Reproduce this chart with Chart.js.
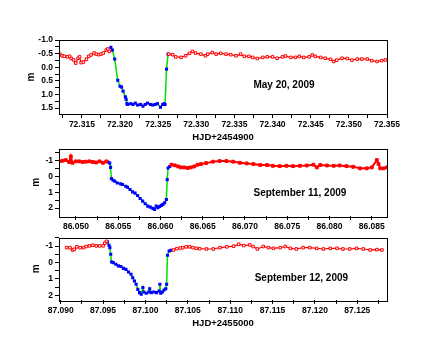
<!DOCTYPE html>
<html>
<head>
<meta charset="utf-8">
<script src="https://cdn.jsdelivr.net/npm/chart.js@4.4.1/dist/chart.umd.min.js"></script>
<style>
html, body { margin: 0; padding: 0; background: #fff; }
#wrap { position: relative; width: 426px; height: 348px; }
#wrap canvas { position: absolute; left: 0; top: 0; }
</style>
</head>
<body>
<div id="wrap">
  <canvas id="c1" width="426" height="348"></canvas>
  <canvas id="c2" width="426" height="348"></canvas>
  <canvas id="c3" width="426" height="348"></canvas>
</div>
<script>
// May 20, 2009  (HJD - 2454900)
var may20PreX = [72.3121,72.3124,72.3127,72.3131,72.3134,72.3136,72.3139,72.3142,72.3145,72.3147,72.3149,72.3152,72.3156,72.3159,72.3162,72.3166,72.3169,72.3172,72.3175,72.3178,72.3182,72.3184,72.3186];
var may20PreY = [-0.48,-0.42,-0.40,-0.38,-0.40,-0.32,-0.27,-0.15,-0.33,-0.38,-0.17,-0.19,-0.30,-0.40,-0.45,-0.52,-0.48,-0.46,-0.48,-0.52,-0.63,-0.67,-0.58];
var may20InX = [72.3188,72.3190,72.3193,72.3197,72.3200,72.3202,72.3204,72.3207,72.3208,72.3209,72.3210,72.3214,72.3217,72.3220,72.3223,72.3227,72.3230,72.3233,72.3236,72.3240,72.3243,72.3246,72.3249,72.3253,72.3256,72.3258,72.3259,72.3261,72.3263];
var may20InY = [-0.73,-0.63,-0.30,0.48,0.70,0.73,0.88,1.09,1.18,1.34,1.37,1.34,1.37,1.32,1.39,1.37,1.43,1.37,1.32,1.37,1.39,1.37,1.34,1.47,1.37,1.34,1.37,0.07,-0.48];
var may20PostX = [72.3264,72.3269,72.3273,72.3280,72.3286,72.3291,72.3295,72.3299,72.3306,72.3312,72.3315,72.3321,72.3326,72.3332,72.3339,72.3345,72.3352,72.3358,72.3363,72.3369,72.3374,72.3380,72.3387,72.3393,72.3400,72.3406,72.3413,72.3417,72.3424,72.3430,72.3435,72.3441,72.3448,72.3452,72.3456,72.3463,72.3469,72.3476,72.3480,72.3484,72.3491,72.3498,72.3504,72.3511,72.3517,72.3524,72.3530,72.3537,72.3543,72.3548];
var may20PostY = [-0.48,-0.46,-0.38,-0.36,-0.42,-0.51,-0.58,-0.52,-0.48,-0.42,-0.48,-0.54,-0.48,-0.51,-0.48,-0.46,-0.42,-0.48,-0.40,-0.40,-0.36,-0.32,-0.36,-0.38,-0.38,-0.33,-0.38,-0.41,-0.36,-0.36,-0.40,-0.36,-0.38,-0.45,-0.40,-0.36,-0.33,-0.29,-0.21,-0.26,-0.33,-0.32,-0.26,-0.30,-0.30,-0.30,-0.24,-0.21,-0.24,-0.27];

// September 11, 2009  (HJD - 2455000)
var sep11PreX = [86.0480,86.0484,86.0488,86.0492,86.0494,86.0496,86.0500,86.0504,86.0508,86.0512,86.0516,86.0520,86.0524,86.0528,86.0532,86.0536];
var sep11PreY = [-0.94,-0.98,-1.02,-0.90,-1.25,-0.85,-0.94,-0.94,-0.90,-0.92,-0.94,-0.90,-0.87,-0.94,-0.85,-0.94];
var sep11InX = [86.0538,86.0540,86.0541,86.0542,86.0544,86.0546,86.0549,86.0553,86.0555,86.0559,86.0561,86.0564,86.0567,86.0570,86.0573,86.0576,86.0579,86.0582,86.0585,86.0588,86.0591,86.0593,86.0595,86.0597,86.0599,86.0601,86.0603,86.0605,86.0607,86.0608,86.0609,86.0611];
var sep11InY = [-0.90,-0.83,-0.56,0.15,0.25,0.31,0.42,0.48,0.52,0.63,0.69,0.83,0.98,1.06,1.21,1.40,1.56,1.73,1.88,1.94,2.02,2.08,1.88,1.98,1.90,1.83,1.77,1.67,1.46,0.21,-0.52,-0.62];
var sep11PostX = [86.0613,86.0617,86.0621,86.0624,86.0628,86.0632,86.0636,86.0640,86.0644,86.0648,86.0654,86.0662,86.0670,86.0678,86.0686,86.0694,86.0702,86.0710,86.0718,86.0726,86.0733,86.0741,86.0749,86.0757,86.0765,86.0773,86.0781,86.0785,86.0789,86.0797,86.0805,86.0812,86.0820,86.0828,86.0836,86.0844,86.0850,86.0856,86.0858,86.0860,86.0864,86.0868];
var sep11PostY = [-0.73,-0.69,-0.62,-0.56,-0.56,-0.52,-0.56,-0.62,-0.73,-0.77,-0.83,-0.92,-0.96,-0.96,-0.92,-0.85,-0.81,-0.77,-0.71,-0.71,-0.66,-0.64,-0.66,-0.64,-0.66,-0.68,-0.73,-0.56,-0.71,-0.68,-0.66,-0.68,-0.64,-0.60,-0.50,-0.50,-0.56,-1.02,-0.77,-0.50,-0.50,-0.56];

// September 12, 2009  (HJD - 2455000)
var sep12PreX = [87.0907,87.0911,87.0914,87.0916,87.0919,87.0923,87.0927,87.0930,87.0934,87.0938,87.0942,87.0946,87.0950,87.0952,87.0954];
var sep12PreY = [-0.90,-0.90,-0.76,-0.80,-0.95,-0.90,-0.90,-0.97,-1.01,-1.05,-1.01,-1.01,-1.01,-1.17,-1.29];
var sep12InX = [87.0955,87.0957,87.0958,87.0959,87.0960,87.0962,87.0965,87.0968,87.0971,87.0974,87.0977,87.0980,87.0983,87.0985,87.0987,87.0989,87.0991,87.0993,87.0995,87.0997,87.0998,87.1001,87.1004,87.1005,87.1007,87.1010,87.1013,87.1016,87.1017,87.1018,87.1020,87.1022,87.1024,87.1025,87.1026,87.1028,87.1030];
var sep12InY = [-1.25,-1.05,-0.90,-0.50,-0.03,0.01,0.11,0.21,0.25,0.36,0.42,0.58,0.72,0.93,1.13,1.33,1.64,1.84,1.94,1.53,1.80,1.88,1.80,1.60,1.84,1.80,1.84,1.74,1.33,1.88,1.80,1.68,1.60,1.33,-0.44,-0.70,-0.74];
var sep12PostX = [87.1033,87.1037,87.1041,87.1044,87.1048,87.1052,87.1056,87.1060,87.1064,87.1072,87.1080,87.1088,87.1096,87.1104,87.1110,87.1116,87.1123,87.1127,87.1132,87.1139,87.1145,87.1151,87.1159,87.1165,87.1171,87.1178,87.1186,87.1194,87.1202,87.1210,87.1218,87.1226,87.1233,87.1241,87.1249,87.1257,87.1265,87.1273,87.1279];
var sep12PostY = [-0.76,-0.84,-0.88,-0.90,-0.95,-0.95,-0.90,-0.86,-0.84,-0.82,-0.82,-0.90,-0.95,-0.99,-1.11,-1.03,-1.07,-0.97,-0.82,-0.97,-0.90,-0.86,-0.90,-0.97,-0.86,-0.82,-0.90,-0.90,-0.86,-0.82,-0.86,-0.86,-0.82,-0.82,-0.86,-0.82,-0.76,-0.78,-0.76];

// ticks
var p1XMajor = [72.315,72.320,72.325,72.330,72.335,72.340,72.345,72.350,72.355];
var p1XMinor = [72.3125,72.3175,72.3225,72.3275,72.3325,72.3375,72.3425,72.3475,72.3525];
var p1YMajor = [-1.0,-0.5,0.0,0.5,1.0,1.5];
var p1YMinor = [-0.75,-0.25,0.25,0.75,1.25];
var p2XMajor = [86.050,86.055,86.060,86.065,86.070,86.075,86.080,86.085];
var p2XMinor = [86.0525,86.0575,86.0625,86.0675,86.0725,86.0775,86.0825];
var p3XMajor = [87.090,87.095,87.100,87.105,87.110,87.115,87.120,87.125];
var p3XMinor = [87.0925,87.0975,87.1025,87.1075,87.1125,87.1175,87.1225,87.1275];
var p23YMajor = [-1,0,1,2];
var p23YMinor = [-1.5,-0.5,0.5,1.5];

var FONT = '"Liberation Sans", Arial, sans-serif';

function pts(xs, ys) {
  return xs.map(function(x, i) { return { x: x, y: ys[i] }; });
}
function isMajor(list, v) {
  return list.some(function(m) { return Math.abs(m - v) < 1e-7; });
}
function tickList(major, minor) {
  return major.concat(minor).sort(function(a, b) { return a - b; })
    .map(function(v) { return { value: v }; });
}

var boxPlugin = {
  id: 'box',
  afterDraw: function(chart) {
    var a = chart.chartArea, ctx = chart.ctx;
    ctx.save();
    ctx.strokeStyle = '#000';
    ctx.lineWidth = 1;
    ctx.strokeRect(Math.round(a.left) + 0.5, Math.round(a.top) + 0.5,
      Math.round(a.right - a.left), Math.round(a.bottom - a.top));
    ctx.restore();
  }
};
var notePlugin = {
  id: 'note',
  afterDraw: function(chart, args, opts) {
    var ctx = chart.ctx;
    ctx.save();
    ctx.font = 'bold 10px ' + FONT;
    ctx.fillStyle = '#000';
    ctx.textAlign = 'center';
    ctx.textBaseline = 'middle';
    ctx.fillText(opts.text, chart.scales.x.getPixelForValue(opts.x), chart.scales.y.getPixelForValue(opts.y));
    ctx.restore();
  }
};

function redSet(data, hollow) {
  return {
    data: data, showLine: true, borderColor: '#ff0000', borderWidth: hollow ? 1.2 : 2,
    pointStyle: 'rect', pointRadius: hollow ? 1.8 : 2, pointBorderWidth: 1,
    pointBorderColor: '#ff0000', pointBackgroundColor: hollow ? '#ffffff' : '#ff0000'
  };
}
function blueSet(data) {
  return {
    data: data, showLine: true, borderColor: '#00e000', borderWidth: 1.5,
    pointStyle: 'rect', pointRadius: 2.2, pointBorderWidth: 0,
    pointBackgroundColor: '#0000ff'
  };
}

function panel(id, p) {
  return new Chart(document.getElementById(id), {
    type: 'scatter',
    data: { datasets: [redSet(p.pre, p.hollow), redSet(p.post, p.hollow), blueSet(p.inn)] },
    plugins: [boxPlugin, notePlugin],
    options: {
      responsive: false,
      animation: false,
      events: [],
      layout: { padding: { left: p.padLeft, right: 39, top: p.top, bottom: p.padBottom } },
      plugins: { legend: { display: false }, tooltip: { enabled: false }, note: p.note },
      scales: {
        x: {
          type: 'linear', min: p.xMin, max: p.xMax,
          afterBuildTicks: function(s) { s.ticks = tickList(p.xMajor, p.xMinor); },
          afterFit: function(s) { s.height = p.xHeight; },
          border: { display: false },
          grid: { drawOnChartArea: false, tickLength: 4, color: '#000' },
          ticks: {
            autoSkip: false, maxRotation: 0, padding: 2, color: '#000',
            font: { family: FONT, size: 8.5, weight: 'bold' },
            callback: function(v) { return isMajor(p.xMajor, v) ? v.toFixed(3) : ''; }
          },
          title: {
            display: !!p.xTitle, text: p.xTitle || '', color: '#000', padding: 0,
            font: { family: FONT, size: 9.5, weight: 'bold', lineHeight: 1.4 }
          }
        },
        y: {
          type: 'linear', reverse: true, min: p.yMin, max: p.yMax,
          afterBuildTicks: function(s) { s.ticks = tickList(p.yMajor, p.yMinor); },
          afterFit: function(s) { s.width = 59 - p.padLeft; },
          border: { display: false },
          grid: { drawOnChartArea: false, tickLength: 4, color: '#000' },
          ticks: {
            autoSkip: false, padding: 2, color: '#000',
            font: { family: FONT, size: 8.5, weight: 'bold' },
            callback: function(v) { return isMajor(p.yMajor, v) ? v.toFixed(p.yDigits) : ''; }
          },
          title: {
            display: true, text: 'm', color: '#000', padding: 0,
            font: { family: FONT, size: 10, weight: 'bold', lineHeight: 1.2 }
          }
        }
      }
    }
  });
}

panel('c1', {
  pre: pts(may20PreX, may20PreY), inn: pts(may20InX, may20InY), post: pts(may20PostX, may20PostY),
  hollow: true, padLeft: 25, top: 40, padBottom: 348 - 114 - 30, xHeight: 30,
  xMin: 72.3120, xMax: 72.3550, yMin: -1.0, yMax: 1.72,
  xMajor: p1XMajor, xMinor: p1XMinor, yMajor: p1YMajor, yMinor: p1YMinor, yDigits: 1,
  xTitle: 'HJD+2454900',
  note: { text: 'May 20, 2009', x: 72.3415, y: 0.68 }
});
panel('c2', {
  pre: pts(sep11PreX, sep11PreY), inn: pts(sep11InX, sep11InY), post: pts(sep11PostX, sep11PostY),
  hollow: false, padLeft: 30, top: 148.5, padBottom: 348 - 216 - 20, xHeight: 20,
  xMin: 86.0480, xMax: 86.0868, yMin: -1.75, yMax: 2.5,
  xMajor: p2XMajor, xMinor: p2XMinor, yMajor: p23YMajor, yMinor: p23YMinor, yDigits: 0,
  xTitle: null,
  note: { text: 'September 11, 2009', x: 86.0765, y: 1.04 }
});
panel('c3', {
  pre: pts(sep12PreX, sep12PreY), inn: pts(sep12InX, sep12InY), post: pts(sep12PostX, sep12PostY),
  hollow: true, padLeft: 30, top: 237.5, padBottom: 348 - 300 - 30, xHeight: 30,
  xMin: 87.0898, xMax: 87.1285, yMin: -1.52, yMax: 2.29,
  xMajor: p3XMajor, xMinor: p3XMinor, yMajor: p23YMajor, yMinor: p23YMinor, yDigits: 0,
  xTitle: 'HJD+2455000',
  note: { text: 'September 12, 2009', x: 87.1184, y: 0.95 }
});
</script>
</body>
</html>
